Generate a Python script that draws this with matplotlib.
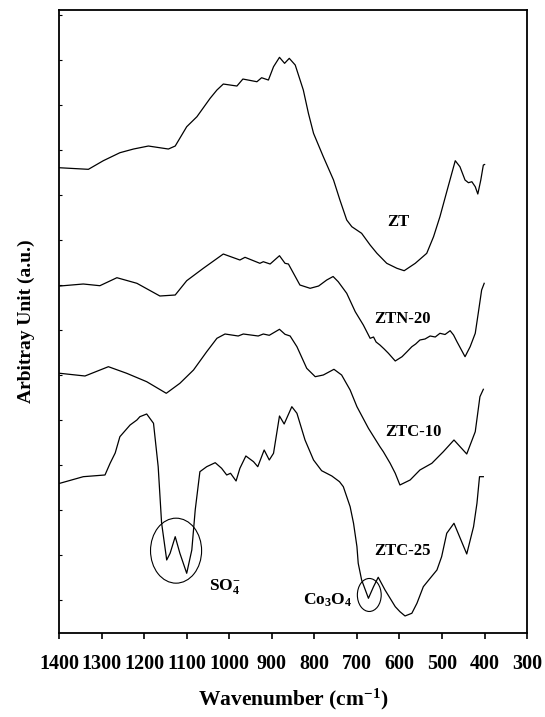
import matplotlib
matplotlib.use("Agg")
import matplotlib.pyplot as plt
from matplotlib.patches import Ellipse

plt.rcParams['font.family'] = ['Liberation Serif', 'DejaVu Serif']
plt.rcParams['font.weight'] = 'bold'
plt.rcParams['mathtext.fontset'] = 'custom'
plt.rcParams['mathtext.rm'] = 'Liberation Serif:bold'
plt.rcParams['mathtext.it'] = 'Liberation Serif:bold'
plt.rcParams['mathtext.bf'] = 'Liberation Serif:bold'
plt.rcParams['mathtext.default'] = 'rm'

# spectra (wavenumber, intensity in a.u.)
zt_w = [1400, 1331, 1296, 1257, 1225, 1190, 1143, 1127, 1100, 1076, 1045, 1029, 1014, 998,
        982, 968, 935, 924, 908, 896, 882, 870, 859, 845, 826, 814, 802, 779, 755, 740,
        724, 712, 689, 669, 653, 630, 606, 589, 563, 536, 520, 505, 489, 469, 458, 446,
        438, 430, 422, 416, 409, 403, 400]
zt_y = [465.3, 463.7, 472.3, 480.3, 484, 487, 484, 487, 506.3, 516.3, 534.7, 543, 549, 548,
        547, 554, 551.3, 555.3, 553, 566.3, 575.7, 569.7, 574.7, 568, 543, 519.7, 499.7, 476.3, 453, 433,
        413, 406.3, 399.7, 388, 379.7, 369.7, 364.7, 362.3, 369.7, 379.7, 396.3, 416.3, 441.3, 472.3, 466.3, 453,
        450.3, 451.3, 446.3, 439, 453, 468, 468.5]

ztn_w = [1398, 1343, 1304, 1264, 1217, 1163, 1127, 1100, 1061, 1014, 975, 963, 928, 920,
         904, 882, 869, 861, 834, 810, 790, 771, 756, 744, 724, 704, 685, 669, 661, 655,
         646, 636, 626, 610, 594, 583, 571, 562, 552, 540, 528, 516, 505, 493, 481, 473,
         465, 446, 434, 422, 415, 407, 401]
ztn_y = [347, 349, 347.3, 355.3, 349.7, 337, 338, 352.3, 364.7, 379, 373, 375.7, 369.7, 371.3,
         369, 377.3, 369.7, 369, 348, 344.7, 347, 353, 356.5, 351.3, 339.7, 321.3, 308, 294.7, 296, 291,
         288, 284, 279.7, 272, 276.3, 281, 286.3, 289, 293, 294, 297, 296, 299.7, 298.5, 302.3, 298,
         291.3, 276.3, 286.3, 299.7, 319.7, 343, 349.7]

ztc10_w = [1398, 1339, 1284, 1241, 1194, 1148, 1116, 1084, 1053, 1029, 1010, 979, 967, 932,
           920, 906, 882, 869, 857, 841, 818, 798, 779, 754, 736, 716, 700, 673, 646, 638,
           622, 610, 599, 575, 552, 524, 497, 472, 442, 422, 411, 403]
ztc10_y = [259.7, 257, 266.3, 259.7, 251.3, 239.7, 249.7, 263, 281.3, 294.7, 299, 297, 299, 297,
           299, 297.7, 303.7, 298.7, 297, 286.3, 264.7, 256.3, 258, 263.7, 258, 243, 226.3, 204.7, 186.3, 181.3,
           169.7, 159.7, 148, 153, 163, 169.7, 181.3, 193, 179, 201.3, 236.3, 243.7]

ztc25_w = [1398, 1343, 1292, 1280, 1268, 1257, 1233, 1217, 1210, 1194, 1178, 1167, 1159, 1147,
           1139, 1127, 1116, 1100, 1088, 1080, 1069, 1053, 1033, 1018, 1006, 997, 984, 975, 961,
           943, 933, 918, 906, 896, 882, 871, 853, 841, 822, 802, 783, 759, 741, 732, 716,
           708, 700, 697, 689, 673, 661, 650, 634, 610, 599, 587, 571, 559, 544, 528, 512,
           501, 489, 472, 454, 442, 426, 418, 412, 403]
ztc25_y = [149.7, 156.3, 158, 169.7, 180, 196.3, 208, 213, 216.3, 219, 209.7, 166.3, 110, 73,
           79.7, 96.3, 79.7, 59.7, 83, 123, 161.3, 166.3, 170.3, 164.7, 158, 159.7, 152, 164.7, 177,
           171.3, 166.3, 183, 173, 179.7, 217, 209, 226.3, 219.7, 193, 173, 162.3, 157, 151.3, 146.3, 126.3,
           109.7, 86.3, 69.7, 53, 34.7, 46.3, 55.7, 43, 26.3, 21.3, 17, 19.7, 29.7, 46.3, 54.7, 63,
           76.3, 99.7, 109.7, 91.3, 79, 106.3, 129.7, 156.3, 156.3]

x_ticks = list(range(1400, 299, -100))

fig = plt.figure(figsize=(5.45, 7.17), dpi=100)
ax = fig.add_axes([0.1083, 0.1172, 0.859, 0.8688])

for w, y in [(zt_w, zt_y), (ztn_w, ztn_y), (ztc10_w, ztc10_y), (ztc25_w, ztc25_y)]:
    ax.plot(w, y, color='black', lw=0.9, solid_joinstyle='round')

ax.set_xlim(1400, 300)
ax.set_ylim(0, 623)
ax.set_xticks(x_ticks)
ax.set_xticklabels([str(t) for t in x_ticks], fontsize=14.5, fontweight='bold')
ax.set_yticks(list(range(33, 620, 45)))
ax.set_yticklabels([])
ax.tick_params(axis='x', direction='out', length=4, width=1.2, pad=11)
ax.tick_params(axis='y', direction='in', length=2.5, width=0.8)
for s in ax.spines.values():
    s.set_linewidth(1.3)

ax.set_xlabel(r"Wavenumber (cm$^{\mathrm{-1}}$)", fontsize=15.5, fontweight='bold', labelpad=9)
ax.set_ylabel("Arbitray Unit (a.u.)", fontsize=14, fontweight='bold', labelpad=14)

# curve labels
ax.text(603, 411, "ZT", fontsize=12, fontweight='bold', ha='center', va='center')
ax.text(592, 314, "ZTN-20", fontsize=12, fontweight='bold', ha='center', va='center')
ax.text(568, 201, "ZTC-10", fontsize=12, fontweight='bold', ha='center', va='center')
ax.text(593, 82, "ZTC-25", fontsize=12, fontweight='bold', ha='center', va='center')
ax.text(1010, 46, r"SO$_{4}^{-}$", fontsize=12.5, ha='center', va='center')
ax.text(770, 33, r"Co$_{3}$O$_{4}$", fontsize=12.5, ha='center', va='center')

# circles around the bands
ax.add_patch(Ellipse((1125, 82.3), 120, 65, fill=False, lw=0.8, color='black'))
ax.add_patch(Ellipse((671, 38), 56, 33, fill=False, lw=0.8, color='black'))

fig.savefig("out.png", dpi=100)
